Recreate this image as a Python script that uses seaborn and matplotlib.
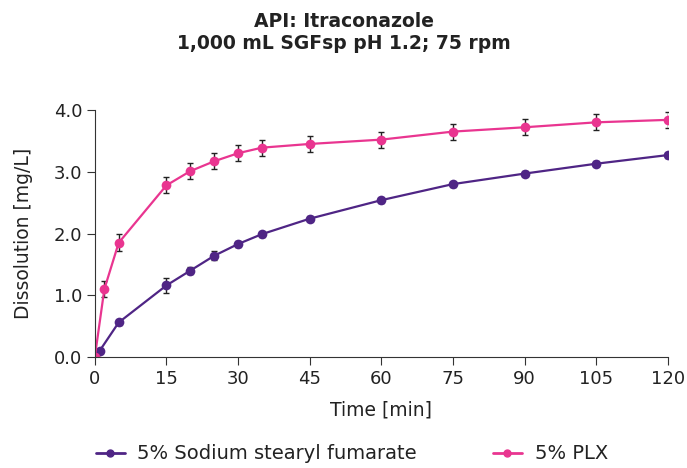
import pandas as pd
import matplotlib.pyplot as plt
import seaborn as sns

# Dados
tempo_ssf = [0, 1, 5, 15, 20, 25, 30, 35, 45, 60, 75, 90, 105, 120]
diss_ssf = [0.0, 0.10, 0.56, 1.16, 1.40, 1.64, 1.83, 1.99, 2.24, 2.54, 2.80, 2.97, 3.13, 3.27]
erro_ssf = [0.0, 0.03, 0.04, 0.12, 0.06, 0.07, 0.05, 0.04, 0.04, 0.04, 0.04, 0.04, 0.04, 0.04]

tempo_plx = [0, 2, 5, 15, 20, 25, 30, 35, 45, 60, 75, 90, 105, 120]
diss_plx = [0.0, 1.10, 1.85, 2.78, 3.01, 3.17, 3.30, 3.39, 3.45, 3.52, 3.65, 3.72, 3.80, 3.84]
erro_plx = [0.0, 0.13, 0.14, 0.13, 0.13, 0.13, 0.13, 0.13, 0.13, 0.13, 0.13, 0.13, 0.13, 0.13]

rotulos = ['5% Sodium stearyl fumarate', '5% PLX']
cores = ['#4f2585', '#e93590']

dados = pd.concat([
    pd.DataFrame({'Tempo': tempo_ssf, 'Dissolucao': diss_ssf, 'Erro': erro_ssf, 'Serie': rotulos[0]}),
    pd.DataFrame({'Tempo': tempo_plx, 'Dissolucao': diss_plx, 'Erro': erro_plx, 'Serie': rotulos[1]}),
])

# --------------------------------------- Figura -----------------------------------------
sns.set_style("ticks")
plt.rcParams['font.family'] = ['DejaVu Sans']

fig = plt.figure(figsize=(6.87, 4.68), dpi=100)
ax = fig.add_axes([0.138, 0.237, 0.834, 0.528])

# barras de erro primeiro (ficam por baixo dos marcadores)
for serie in rotulos:
    d = dados[dados['Serie'] == serie]
    ax.errorbar(d['Tempo'], d['Dissolucao'], yerr=d['Erro'], fmt='none',
                ecolor='#222222', elinewidth=1, capsize=2, capthick=1, zorder=1)

sns.lineplot(data=dados, x='Tempo', y='Dissolucao', hue='Serie', palette=cores,
             marker='o', markersize=7, markeredgewidth=0, linewidth=1.6,
             errorbar=None, ax=ax, legend=False, zorder=2)

ax.set_xlim(0, 120)
ax.set_ylim(0, 4.0)
ax.set_xticks(range(0, 121, 15))
ax.set_yticks([0, 1, 2, 3, 4])
ax.set_yticklabels(['0.0', '1.0', '2.0', '3.0', '4.0'])
ax.tick_params(axis='both', labelsize=13, length=6, width=0.8, pad=3,
               color='#333333', labelcolor='#222222', direction='out')
for lado in ['top', 'right']:
    ax.spines[lado].set_visible(False)
for lado in ['left', 'bottom']:
    ax.spines[lado].set_color('#333333')
    ax.spines[lado].set_linewidth(0.8)

ax.set_xlabel('Time [min]', fontsize=13.5, labelpad=9, color='#222222')
ax.set_ylabel('Dissolution [mg/L]', fontsize=13.5, labelpad=15, color='#222222')

fig.text(0.5, 0.953, 'API: Itraconazole', ha='center', va='center', fontsize=13.5,
         fontweight='bold', color='#222222')
fig.text(0.5, 0.906, '1,000 mL SGFsp pH 1.2; 75 rpm', ha='center', va='center', fontsize=13.5,
         fontweight='bold', color='#222222')

alcas = [plt.Line2D([], [], color=c, marker='o', markersize=5, linewidth=2) for c in cores]
fig.legend(alcas, rotulos, loc='center', bbox_to_anchor=(0.512, 0.03), ncol=2, frameon=False,
           fontsize=14, columnspacing=3.9, handlelength=1.5, handletextpad=0.65,
           labelcolor='#222222', borderpad=0.1)

plt.savefig("out.png", dpi=100)
